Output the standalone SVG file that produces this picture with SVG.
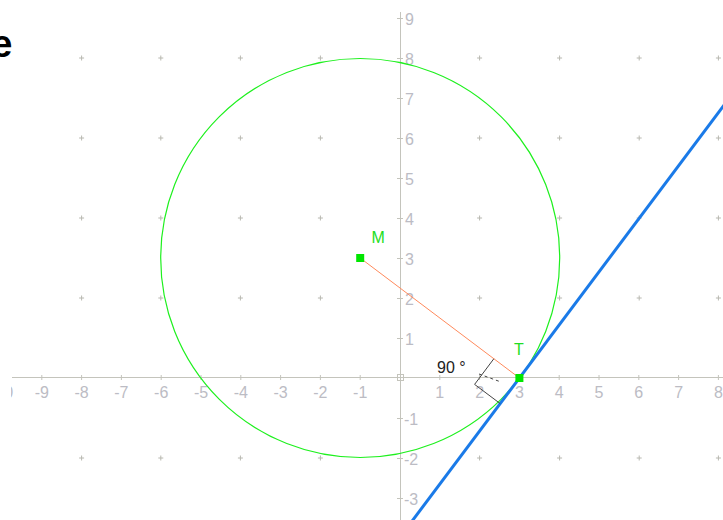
<svg xmlns="http://www.w3.org/2000/svg" width="723" height="520" viewBox="0 0 723 520">
<style>
.ax{stroke:#c4c4bc;stroke-width:1;fill:none}
.lbl{font-family:"Liberation Sans",Arial,sans-serif;font-size:16px;fill:#bcbcc4}
.xl{text-anchor:middle}
.grid{stroke:#b8b8b0;stroke-width:1}
.pt{fill:#00e600}
.ptl{font-family:"Liberation Sans",Arial,sans-serif;font-size:16px;fill:#22dd22}
</style>
<defs>
<path id="plus" d="M-2.5 0H2.5M0 -2.5V2.5" class="grid"/>
<clipPath id="clipL"><rect x="11" y="0" width="712" height="520"/></clipPath>
</defs>
<rect width="723" height="520" fill="#ffffff"/>
<g id="grid">
<use href="#plus" x="81.6" y="58"/><use href="#plus" x="160.8" y="58"/><use href="#plus" x="240.4" y="58"/><use href="#plus" x="320.4" y="58"/><use href="#plus" x="479.6" y="58"/><use href="#plus" x="559.6" y="58"/><use href="#plus" x="639.2" y="58"/><use href="#plus" x="718.4" y="58"/>
<use href="#plus" x="81.6" y="138"/><use href="#plus" x="160.8" y="138"/><use href="#plus" x="240.4" y="138"/><use href="#plus" x="320.4" y="138"/><use href="#plus" x="479.6" y="138"/><use href="#plus" x="559.6" y="138"/><use href="#plus" x="639.2" y="138"/><use href="#plus" x="718.4" y="138"/>
<use href="#plus" x="81.6" y="218"/><use href="#plus" x="160.8" y="218"/><use href="#plus" x="240.4" y="218"/><use href="#plus" x="320.4" y="218"/><use href="#plus" x="479.6" y="218"/><use href="#plus" x="559.6" y="218"/><use href="#plus" x="639.2" y="218"/><use href="#plus" x="718.4" y="218"/>
<use href="#plus" x="81.6" y="298"/><use href="#plus" x="160.8" y="298"/><use href="#plus" x="240.4" y="298"/><use href="#plus" x="320.4" y="298"/><use href="#plus" x="479.6" y="298"/><use href="#plus" x="559.6" y="298"/><use href="#plus" x="639.2" y="298"/><use href="#plus" x="718.4" y="298"/>
<use href="#plus" x="81.6" y="458"/><use href="#plus" x="160.8" y="458"/><use href="#plus" x="240.4" y="458"/><use href="#plus" x="320.4" y="458"/><use href="#plus" x="479.6" y="458"/><use href="#plus" x="559.6" y="458"/><use href="#plus" x="639.2" y="458"/><use href="#plus" x="718.4" y="458"/>
</g>
<g id="axes">
<path class="ax" d="M12 377.5H723M400.5 12V520"/>
<path class="ax" d="M41.8 375V380M81.6 375V380M121.4 375V380M161.2 375V380M201 375V380M240.8 375V380M280.6 375V380M320.4 375V380M360.2 375V380M439.8 375V380M479.6 375V380M519.4 375V380M559.2 375V380M599 375V380M638.8 375V380M678.6 375V380M718.4 375V380"/>
<path class="ax" d="M397 18.5H403M397 58.5H403M397 98.5H403M397 138.5H403M397 178.5H403M397 218.5H403M397 258.5H403M397 298.5H403M397 338.5H403M397 418.5H403M397 458.5H403M397 498.5H403"/>
<rect class="ax" x="397.5" y="374.5" width="6" height="6"/>
<g class="lbl xl">
<text x="1.5" y="398" clip-path="url(#clipL)">-10</text><text x="41.8" y="398">-9</text><text x="81.6" y="398">-8</text><text x="121.4" y="398">-7</text><text x="161.2" y="398">-6</text><text x="201" y="398">-5</text><text x="240.8" y="398">-4</text><text x="280.6" y="398">-3</text><text x="320.4" y="398">-2</text><text x="360.2" y="398">-1</text><text x="439.8" y="398">1</text><text x="479.6" y="398">2</text><text x="519.4" y="398">3</text><text x="559.2" y="398">4</text><text x="599" y="398">5</text><text x="638.8" y="398">6</text><text x="678.6" y="398">7</text><text x="718.4" y="398">8</text>
</g>
<g class="lbl">
<text x="405" y="25">9</text><text x="405" y="65">8</text><text x="405" y="105">7</text><text x="405" y="145">6</text><text x="405" y="185">5</text><text x="405" y="225">4</text><text x="405" y="265">3</text><text x="405" y="305">2</text><text x="405" y="345">1</text><text x="404" y="425">-1</text><text x="404" y="465">-2</text><text x="404" y="505">-3</text>
</g>
</g>
<g id="circle">
<circle cx="360.2" cy="258" r="199.5" fill="none" stroke="#1ef01e" stroke-width="1.2"/>
</g>
<g id="connectors">
<line id="radius" x1="360.2" y1="258" x2="519.4" y2="378" stroke="#ff8a5c" stroke-width="1"/>
<line id="tangent" x1="405.4" y1="530" x2="731.6" y2="95" stroke="#1a7ae8" stroke-width="3"/>
</g>
<g id="rightangle" fill="none" stroke="#444444" stroke-width="1">
<polyline points="493.8,358.8 474.6,384.4 500.2,403.6"/>
<line x1="479" y1="374" x2="501" y2="382" stroke-dasharray="3,3"/>
<text x="437" y="372.5" stroke="none" fill="#222222" font-family="Liberation Sans, Arial, sans-serif" font-size="16">90 °</text>
</g>
<g id="M">
<rect class="pt" x="356.2" y="254" width="8" height="8"/>
<text class="ptl" x="371.5" y="242.5">M</text>
</g>
<g id="T">
<rect class="pt" x="515.4" y="374" width="8" height="8"/>
<text class="ptl" x="514" y="355">T</text>
</g>
<g id="title">
<text x="12.5" y="57" text-anchor="end" font-family="Liberation Sans, Arial, sans-serif" font-size="38" font-weight="bold" fill="#000000">e</text>
</g>
</svg>
